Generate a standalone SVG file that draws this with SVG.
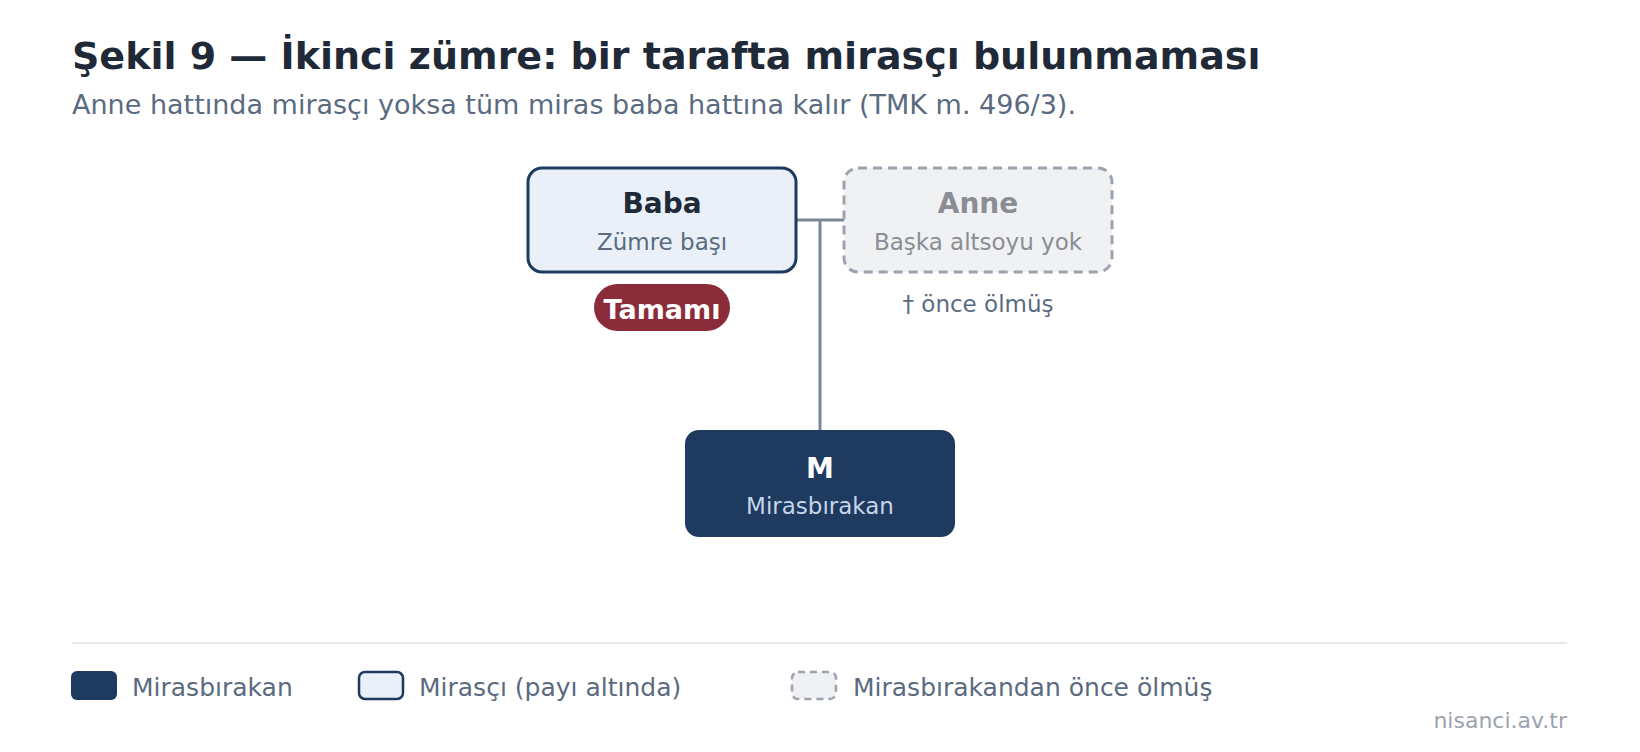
<svg xmlns="http://www.w3.org/2000/svg" width="1640" height="752" viewBox="0 0 1640 752">
<style>
text{font-family:"DejaVu Sans","Noto Sans",sans-serif}
.title{font-size:38px;font-weight:bold;fill:#1f2937}
.sub{font-size:27px;fill:#5b6b7f}
.nm{font-size:28px;font-weight:bold;text-anchor:middle}
.ds{font-size:23px;text-anchor:middle}
.lg{font-size:25px;fill:#5b6b7f}
.conn{stroke:#7b8794;stroke-width:3;fill:none}
</style>
<rect width="1640" height="752" fill="#ffffff"/>
<text class="title" x="72" y="69">Şekil 9 — İkinci zümre: bir tarafta mirasçı bulunmaması</text>
<text class="sub" x="72" y="114">Anne hattında mirasçı yoksa tüm miras baba hattına kalır (TMK m. 496/3).</text>
<g id="connectors">
<line class="conn" x1="796" y1="220" x2="844" y2="220"/>
<line class="conn" x1="820" y1="220" x2="820" y2="430"/>
</g>
<g id="node-baba">
<rect x="528" y="168" width="268" height="104" rx="14" fill="#e9f0f8" stroke="#1f3a5f" stroke-width="3"/>
<text class="nm" x="662" y="213" fill="#1f2937">Baba</text>
<text class="ds" x="662" y="250" fill="#5b6b7f">Zümre başı</text>
</g>
<g id="badge-tamami">
<rect x="594" y="284" width="136" height="47" rx="23.5" fill="#8b2c3a"/>
<text x="662" y="319" text-anchor="middle" font-size="27" font-weight="bold" fill="#ffffff">Tamamı</text>
</g>
<g id="node-anne">
<rect x="844" y="168" width="268" height="104" rx="14" fill="#f0f1f3" stroke="#9ca3af" stroke-width="3" stroke-dasharray="9 6"/>
<text class="nm" x="978" y="213" fill="#8a8d93">Anne</text>
<text class="ds" x="978" y="250" fill="#8a8d93">Başka altsoyu yok</text>
</g>
<text class="ds" x="978" y="312" fill="#5b6b7f">† önce ölmüş</text>
<g id="node-m">
<rect x="685" y="430" width="270" height="107" rx="14" fill="#1f3a5f"/>
<text class="nm" x="820" y="478" fill="#ffffff">M</text>
<text class="ds" x="820" y="514" fill="#c5d5ea">Mirasbırakan</text>
</g>
<line x1="72" y1="643" x2="1567" y2="643" stroke="#e5e7eb" stroke-width="2"/>
<g id="legend">
<rect x="71" y="671" width="46" height="29" rx="6" fill="#1f3a5f"/>
<text class="lg" x="132" y="696">Mirasbırakan</text>
<rect x="359" y="672" width="44" height="27" rx="6" fill="#e9f0f8" stroke="#1f3a5f" stroke-width="2.5"/>
<text class="lg" x="419" y="696">Mirasçı (payı altında)</text>
<rect x="792" y="672" width="44" height="27" rx="6" fill="#f0f1f3" stroke="#9ca3af" stroke-width="2.5" stroke-dasharray="7 5"/>
<text class="lg" x="853" y="696">Mirasbırakandan önce ölmüş</text>
</g>
<text x="1567" y="728" text-anchor="end" font-size="22" fill="#9ca3af">nisanci.av.tr</text>
</svg>
